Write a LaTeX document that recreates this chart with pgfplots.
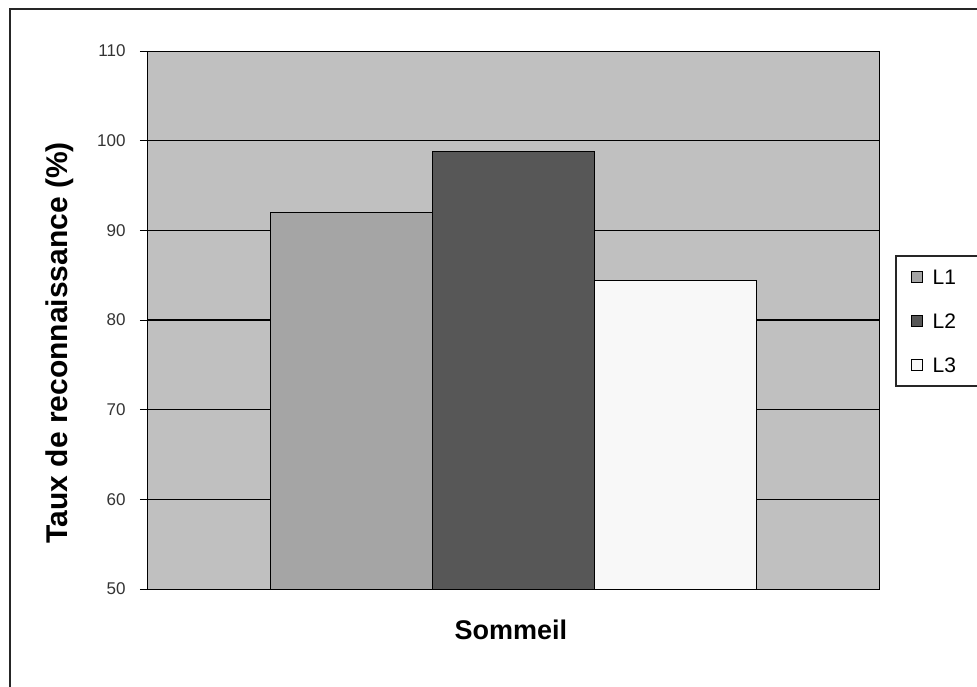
\documentclass[border=0pt]{standalone}
\usepackage{pgfplots}
\pgfplotsset{compat=1.18}
\usepackage{fontspec}
\setmainfont{Liberation Sans}
\definecolor{bgc}{HTML}{C0C0C0}
\definecolor{cA}{HTML}{A5A5A5}
\definecolor{cB}{HTML}{575757}
\definecolor{cC}{HTML}{F8F8F8}
\begin{document}
\begin{tikzpicture}[x=1pt,y=1pt]
\useasboundingbox (0,0) rectangle (977,686);
\draw[line width=2pt,black!85] (10,-5) -- (10,677) -- (985,677);
\begin{axis}[
  at={(147pt,97pt)}, anchor=south west,
  scale only axis, width=732pt, height=538pt,
  ybar=0pt, bar width=162pt,
  xmin=-1, xmax=1, ymin=50, ymax=110,
  ytick={50,60,...,110}, xtick=\empty,
  extra y ticks={60,70,...,100},
  extra y tick style={grid=major, yticklabels={}, major tick length=0pt},
  grid style={black, line width=1.5pt},
  axis background/.style={fill=bgc},
  axis line style={draw=gray!80!black, line width=1pt},
  y axis line style={draw=black},
  tick style={black, line width=1pt},
  ytick pos=left, tick align=outside, major tick length=7pt,
  yticklabel style={font=\fontsize{17}{19}\selectfont, text=black!80, xshift=-11pt},
  /pgf/number format/assume math mode=true,
  ylabel={\textbf{Taux de reconnaissance (\%)}},
  ylabel style={font=\fontsize{30}{34}\selectfont, at={(axis description cs:-0.119,0.458)}, anchor=center, rotate=0},
  xlabel={\textbf{Sommeil}},
  xlabel style={font=\fontsize{27}{32}\selectfont, at={(axis description cs:0.497,-0.076)}, anchor=center},
  legend style={at={(axis description cs:1.0219,0.6208)}, anchor=north west,
    draw=black!85, line width=1.5pt, fill=white, font=\fontsize{21}{23}\selectfont,
    row sep=29pt, inner xsep=15pt, inner ysep=13.5pt,
    nodes={inner sep=0pt, text height=15pt, text depth=0pt},
    /tikz/every odd column/.append style={column sep=10pt},
    legend cell align=left, text width=70pt},
  legend image code/.code={\draw[#1, draw=black, line width=0.8pt] (0pt,-5.5pt) rectangle (11pt,5.5pt);},
]
\addplot[fill=cA, draw=black, line width=0.8pt] coordinates {(0,92.0)};
\addplot[fill=cB, draw=black, line width=0.8pt] coordinates {(0,98.8)};
\addplot[fill=cC, draw=black, line width=0.8pt] coordinates {(0,84.4)};
\legend{L1,L2,L3}
\end{axis}
\end{tikzpicture}
\end{document}
